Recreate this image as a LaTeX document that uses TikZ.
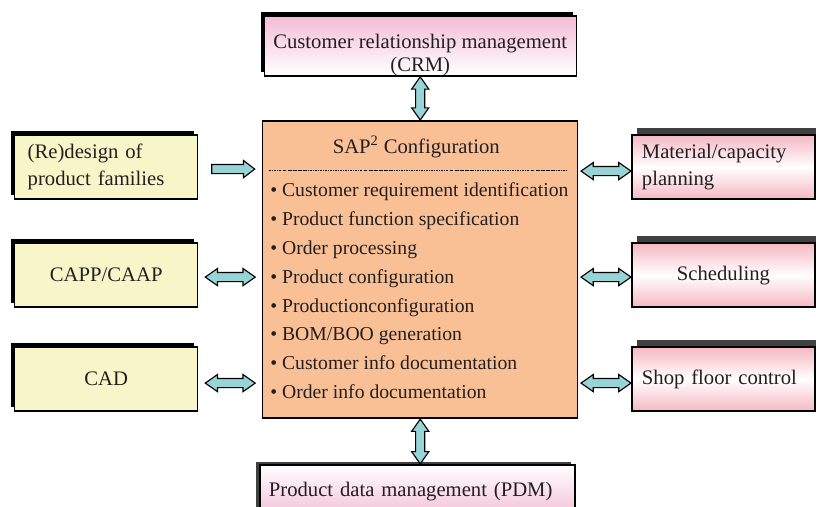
\documentclass[tikz,border=0pt]{standalone}
\usepackage{fontspec}
\setmainfont{Liberation Serif}
\usetikzlibrary{positioning}
\usetikzlibrary{shapes.arrows,shadows}

\definecolor{boxyellow}{RGB}{248,246,200}
\definecolor{corepeach}{RGB}{249,192,150}
\definecolor{crmpink}{RGB}{243,188,214}
\definecolor{planpink}{RGB}{245,184,194}
\definecolor{arrowcyan}{RGB}{150,212,216}
\definecolor{inkgray}{RGB}{35,31,32}

\newcommand\boxfont{\fontsize{14.7}{19.1}\selectfont}
\newcommand\crmfont{\fontsize{14.7}{16.3}\selectfont}
\newcommand\listfont{\fontsize{14}{17}\selectfont}

\tikzset{side box/.style={rectangle,draw=black,line width=1pt,minimum height=1.6cm,text width=4.075cm,inner xsep=0.25cm,inner ysep=0pt,font=\boxfont,text=inkgray,align=left},
  yellow box/.style={side box,fill=boxyellow,text width=3.925cm,inner xsep=0.325cm,drop shadow={shadow xshift=-0.1cm,shadow yshift=0.1cm,opacity=1,fill=black}},
  pink box/.style={side box,top color=planpink,bottom color=planpink,middle color=white,drop shadow={shadow xshift=0.125cm,shadow yshift=0.175cm,opacity=1,fill=black!75}},
  crm box/.style={rectangle,draw=black,line width=1pt,minimum width=7.8cm,minimum height=1.5cm,inner ysep=0pt,text height=1.38cm,font=\crmfont,text=inkgray,align=center,top color=crmpink,bottom color=white,drop shadow={shadow xshift=-0.075cm,shadow yshift=0.1cm,opacity=1,fill=black}},
  pdm box/.style={rectangle,draw=black,line width=1pt,minimum height=1.35cm,text width=7.425cm,inner xsep=0.225cm,font=\boxfont,text=inkgray,align=left,top color=white,bottom color=crmpink,drop shadow={shadow xshift=-0.1cm,shadow yshift=0.075cm,opacity=1,fill=black!75}},
  core box/.style={rectangle,draw=black,line width=1pt,fill=corepeach,minimum width=7.875cm,minimum height=7.425cm},
  core title/.style={inner sep=0pt,font=\boxfont,text=inkgray},
  core item/.style={anchor=base west,inner sep=0pt,font=\listfont,text=inkgray},
  core rule/.style={line width=0.5pt,dash pattern=on 1.6pt off 0.8pt on 0.4pt off 0.8pt},
  fat arrow/.style={double arrow,draw=black,line width=0.8pt,fill=arrowcyan,inner xsep=0pt,inner ysep=0.1cm,double arrow head extend=0.1cm,double arrow tip angle=70,minimum height=1.25cm},
  fat single/.style={fat arrow,single arrow,single arrow head extend=0.1cm,single arrow tip angle=75,minimum height=1.075cm}}

\begin{document}
\begin{tikzpicture}
\useasboundingbox (-10.506,-5.9375) rectangle (9.894,6.7375);
\begin{scope}[on grid]

  \node[core box] (sap) {};
  \node[crm box] (crm) [above=5.59cm of sap] {Customer relationship management\\(CRM)};
  \node[pdm box] (pdm) [below=5.5625cm of sap, xshift=-0.07cm] {Product data management (PDM)};

  \node[yellow box, align=center] (capp) [left=7.85cm of sap, yshift=-0.14cm] {CAPP/CAAP};
  \node[yellow box] (redesign) [above=2.7cm of capp] {(Re)design of\\product families};
  \node[yellow box, align=center] (cad) [below=2.6cm of capp] {CAD};

  \node[pink box, align=center] (sched) [right=7.58cm of sap, yshift=-0.14cm] {Scheduling};
  \node[pink box] (material) [above=2.7cm of sched] {Material/capacity\\planning};
  \node[pink box] (shop) [below=2.6cm of sched] {Shop floor control};

  % contents of the configuration box
  \node[core title] (saptitle) [below=0.825cm of sap.north, anchor=base, xshift=-0.1cm] {SAP\textsuperscript{2} Configuration};
  \draw[core rule] ([xshift=0.175cm, yshift=-1.25cm]sap.north west) -- ([xshift=-0.29cm, yshift=-1.25cm]sap.north east);
  \foreach \txt [count=\i] in {Customer requirement identification, Product function specification,
      Order processing, Product configuration, Productionconfiguration, BOM/BOO generation,
      Customer info documentation, Order info documentation}
    \node[core item] (item\i) at ([xshift=0.2cm, yshift={-1.915cm-(\i-1)*0.72cm}]sap.north west) {\textbullet\ \txt};

  % arrows between the boxes
  \path (crm.south) -- (sap.north) node[midway, fat arrow, rotate=90, minimum height=1.08cm] (crmlink) {};
  \path (sap.south) -- (sap.south |- pdm.north) node[midway, fat arrow, rotate=90, minimum height=1.12cm] (pdmlink) {};

  \path (redesign.east) -- (redesign.east -| sap.west) node[midway, fat single, yshift=-0.05cm] (redesignlink) {};
  \path (capp.east) -- (capp.east -| sap.west) node[midway, fat arrow, yshift=-0.05cm] (capplink) {};
  \path (cad.east) -- (cad.east -| sap.west) node[midway, fat arrow, yshift=-0.1cm] (cadlink) {};

  \path (material.west -| sap.east) -- (material.west) node[midway, fat arrow, xshift=0.03cm, yshift=-0.1cm] (materiallink) {};
  \path (sched.west -| sap.east) -- (sched.west) node[midway, fat arrow, xshift=0.03cm, yshift=-0.05cm] (schedlink) {};
  \path (shop.west -| sap.east) -- (shop.west) node[midway, fat arrow, xshift=0.03cm, yshift=-0.1cm] (shoplink) {};
\end{scope}
\end{tikzpicture}
\end{document}
